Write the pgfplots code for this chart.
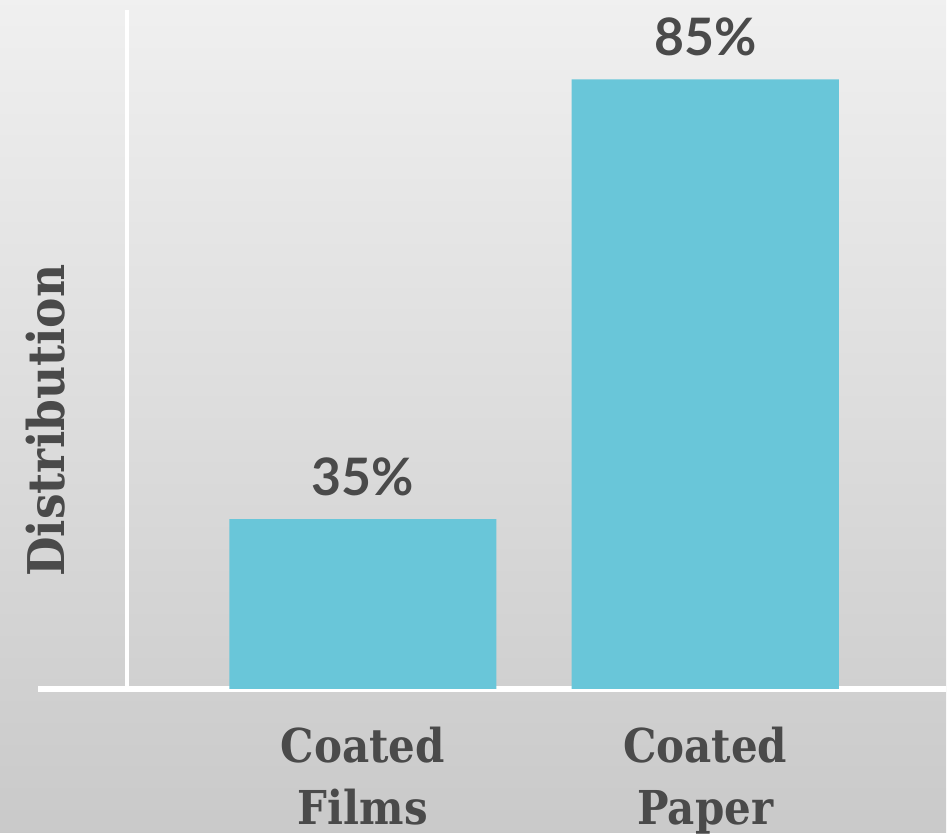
\documentclass[border=0pt]{standalone}
\usepackage{pgfplots}
\pgfplotsset{compat=1.18}
\usepackage{fontspec}
\setmainfont{DejaVu Serif Condensed}
\newfontfamily\pctfont{Lato}
\definecolor{barblue}{HTML}{69C6D9}
\definecolor{txtgrey}{HTML}{4A4A4A}
\begin{document}
\begin{tikzpicture}
% grey photo-like background
\shade[top color=black!6, middle color=black!11, bottom color=black!21]
  (0,0) rectangle (949bp,835bp);
\begin{axis}[
    at={(38bp,144bp)},
    anchor=south west,
    scale only axis,
    width=911bp,
    height=681bp,
    ybar,
    bar width=0.78,
    xmin=-0.949, xmax=1.703,
    ymin=15.7, ymax=92.9,
    xtick=data,
    xticklabels={Coated\\Films, Coated\\Paper},
    xticklabel style={align=center, font=\bfseries\fontsize{47}{62}\selectfont,
        text=txtgrey, yshift=-35bp},
    major tick length=0pt,
    ytick=\empty,
    axis x line=bottom,
    axis y line=left,
    y axis line style={draw=none},
    x axis line style={white, line width=6bp, -},
    ylabel={Distribution},
    ylabel style={at={(axis description cs:0.0088,0.395)}, anchor=center,
        font=\bfseries\fontsize{51}{60}\selectfont, text=txtgrey},
    nodes near coords={\pctfont\bfseries\pgfmathprintnumber[assume math mode=true]{\pgfplotspointmeta}\%},
    nodes near coords style={font=\fontsize{52}{60}\selectfont, text=txtgrey,
        anchor=south, yshift=20bp},
    clip=false,
]
\addplot[fill=barblue, draw=none] coordinates {(0,35) (1,85)};
\draw[white, line width=4bp] (axis cs:-0.69,15.7) -- (axis cs:-0.69,92.9);
\end{axis}
\end{tikzpicture}
\end{document}
